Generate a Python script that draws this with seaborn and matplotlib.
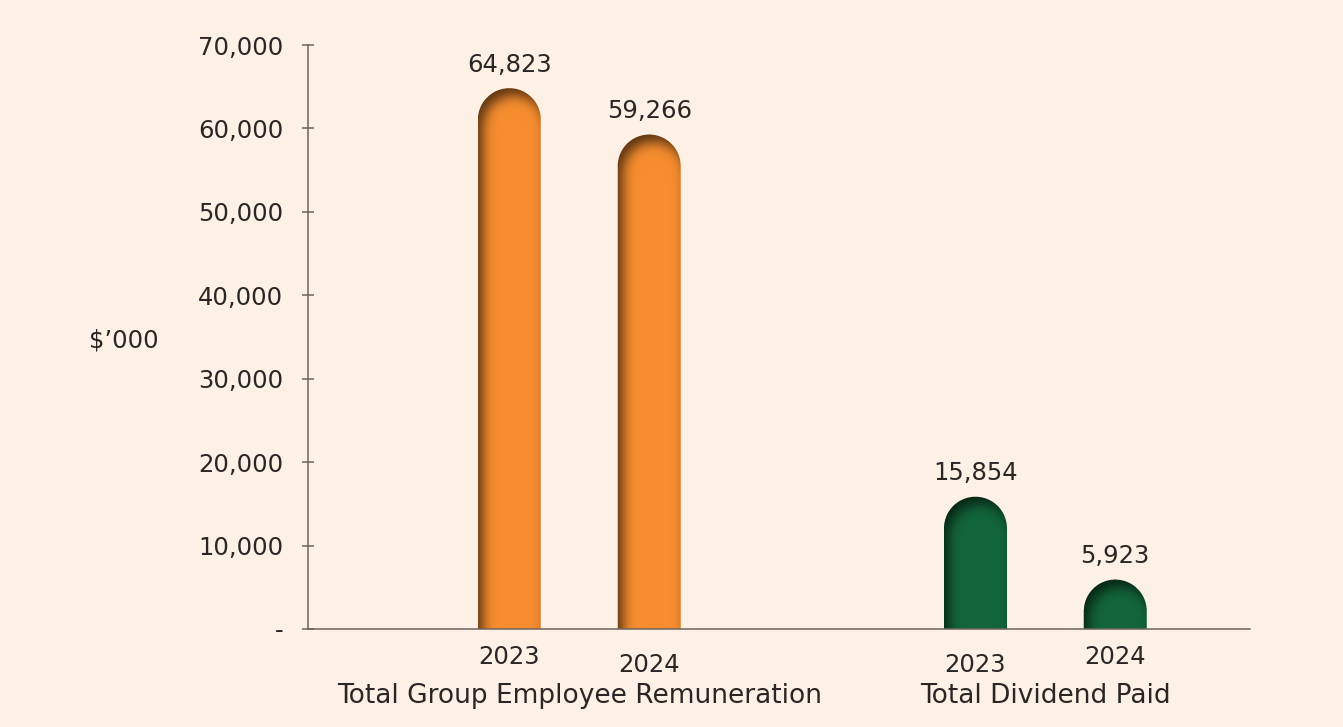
import numpy as np
import pandas as pd
import matplotlib
matplotlib.use("Agg")
import matplotlib.pyplot as plt
import seaborn as sns
from matplotlib.colors import to_rgb
from matplotlib.ticker import FuncFormatter

# ---------------- data ----------------
groups = ["Total Group Employee Remuneration", "Total Dividend Paid"]
years = ["2023", "2024"]
remuneration_values = [64823, 59266]
dividend_values = [15854, 5923]
y_ticks = [0, 10000, 20000, 30000, 40000, 50000, 60000, 70000]
y_label = "$\u2019000"

# ---------------- style ----------------
BG = "#FDF0E4"
GROUP_COLORS = ["#F68D2F", "#136639"]
TEXT = "#2A2626"
AXIS = "#6E6360"
FS = 17.5
FS_GROUP = 19

df = pd.DataFrame({
    "group": [g for g in groups for _ in years],
    "year": years * 2,
    "value": remuneration_values + dividend_values,
})

sns.set_theme(style="white")
plt.rcParams["font.family"] = ["DejaVu Sans"]

W_PX, H_PX = 1343, 727
fig = plt.figure(figsize=(W_PX / 100, H_PX / 100), dpi=100, facecolor=BG)
ax = fig.add_axes([308 / W_PX, (H_PX - 629) / H_PX, 942 / W_PX, 584 / H_PX])
ax.set_facecolor(BG)

sns.barplot(data=df, x="group", y="value", hue="year", order=groups,
            hue_order=years, width=0.6, gap=0.55, palette=["#999999", "#999999"],
            legend=False, errorbar=None, ax=ax)

ax.set_xlim(-0.582, 1.439)
ax.set_ylim(0, 70000)
ax.set_yticks(y_ticks)
ax.yaxis.set_major_formatter(FuncFormatter(lambda v, p: "-" if v == 0 else f"{v:,.0f}"))
ax.tick_params(axis="y", direction="inout", length=8, width=1.1, color=AXIS,
               labelsize=FS, labelcolor=TEXT, pad=14, left=True)
ax.set_xticks([0, 1])
ax.set_xticklabels(groups)
ax.tick_params(axis="x", length=0, labelsize=FS_GROUP, labelcolor=TEXT, pad=39)
ax.set_xlabel("")
ax.set_ylabel(y_label, rotation=0, fontsize=FS, color=TEXT, ha="center", va="center")
ax.yaxis.set_label_coords(-0.196, 0.494)
for s in ["top", "right"]:
    ax.spines[s].set_visible(False)
for s in ["left", "bottom"]:
    ax.spines[s].set_color(AXIS)
    ax.spines[s].set_linewidth(1.1)
    ax.spines[s].set_zorder(5)


def blur(a, sigma):
    rad = int(3 * sigma) + 1
    k = np.exp(-0.5 * (np.arange(-rad, rad + 1) / sigma) ** 2)
    k /= k.sum()
    a = np.apply_along_axis(lambda m: np.convolve(m, k, mode="same"), 0, a)
    a = np.apply_along_axis(lambda m: np.convolve(m, k, mode="same"), 1, a)
    return a


def inside(u, v, Wb, Hb, extend=False):
    r = Wb / 2.0
    rect = (u >= 0) & (u <= Wb) & (v <= Hb - r)
    if not extend:
        rect &= v >= 0
    circ = (u - r) ** 2 + (v - (Hb - r)) ** 2 <= r ** 2
    return rect | circ


year_offsets = {(0, "2023"): 20, (0, "2024"): 26, (1, "2023"): 26, (1, "2024"): 20}

lookup = {}
for gi, g in enumerate(groups):
    for yi, y in enumerate(years):
        lookup[(gi, yi)] = df[(df.group == g) & (df.year == y)].value.iloc[0]

for patch in list(ax.patches):
    bx = patch.get_x()
    bw = patch.get_width()
    bh = patch.get_height()
    xc = bx + bw / 2
    gi = int(round(xc))
    yi = 0 if xc < gi else 1
    patch.set_visible(False)
    base = np.array(to_rgb(GROUP_COLORS[gi]))

    (x0, y0), (x1, y1) = ax.transData.transform([(bx, 0), (bx + bw, bh)])
    Wb, Hb = x1 - x0, y1 - y0
    X0, X1 = int(np.floor(x0)), int(np.ceil(x1))
    Y0, Y1 = int(np.floor(y0)), int(np.ceil(y1)) + 1
    P = 40
    ii = np.arange(X0 - P, X1 + P) + 0.5 - x0
    jj = np.arange(Y0 - P, Y1 + P) + 0.5 - y0
    U, V = np.meshgrid(ii, jj)
    dx, dy = 5.0, 7.0
    shifted = inside(U - dx, V + dy, Wb, Hb, extend=True).astype(float)
    sh = 1 - blur(shifted, 6.0)
    sh = sh[P:-P, P:-P]
    ss = 4
    off = (np.arange(ss) + 0.5) / ss
    ui = (np.arange(X0, X1)[:, None] + off[None, :]).ravel() - x0
    vj = (np.arange(Y0, Y1)[:, None] + off[None, :]).ravel() - y0
    Us, Vs = np.meshgrid(ui, vj)
    m = inside(Us, Vs, Wb, Hb).astype(float)
    alpha = m.reshape(Y1 - Y0, ss, X1 - X0, ss).mean(axis=(1, 3))
    s = np.clip(sh, 0, 1)
    rgb = base[None, None, :] * (1 - 0.64 * s[..., None])
    img = np.dstack([rgb, alpha])
    (dX0, dY0), (dX1, dY1) = ax.transData.inverted().transform([(X0, Y0), (X1, Y1)])
    ax.imshow(img, extent=(dX0, dX1, dY0, dY1), origin="lower", aspect="auto",
              interpolation="nearest", zorder=3)

    val = lookup[(gi, yi)]
    ax.annotate(f"{val:,.0f}", xy=(xc, val), xytext=(0, 17), textcoords="offset points",
                ha="center", va="center", fontsize=FS, color=TEXT)
    ax.annotate(years[yi], xy=(xc, 0), xytext=(0, -year_offsets[(gi, years[yi])]),
                textcoords="offset points", ha="center", va="center",
                fontsize=FS, color=TEXT)

ax.set_xlim(-0.582, 1.439)
ax.set_ylim(0, 70000)

fig.savefig("out.png", dpi=100, facecolor=BG)
